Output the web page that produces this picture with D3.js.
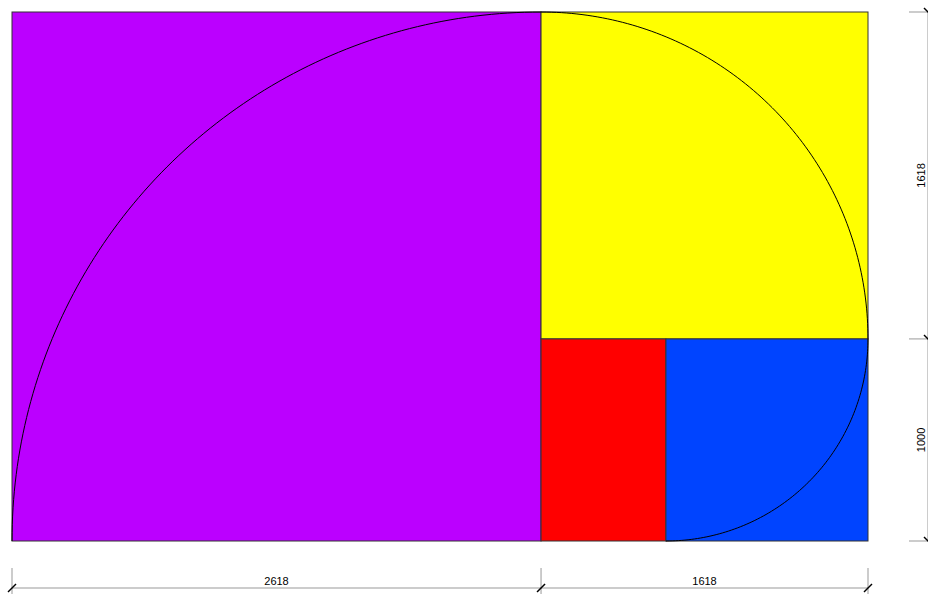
<!DOCTYPE html>
<html lang="en">
<head>
<script src="https://d3js.org/d3.v7.min.js"></script>
<style>
  body { margin: 0; background: #fff; }
  .tile { stroke: #333; stroke-width: 1px; }
  .arc { fill: none; stroke: #000; stroke-width: 1px; }
  .ext { stroke: #999; stroke-width: 1px; }
  .tick { stroke: #000; stroke-width: 1.5px; }
  .dimlabel { font-family: "Liberation Sans", Arial, sans-serif; font-size: 11px; fill: #000; }
</style>
</head>
<body>
<svg id="golden" width="928" height="594"></svg>
<script>
// tiles in data units: [x0, y0, x1, y1]
const tileNames = ["big", "upper", "small", "mid"];
const tileBoxes = [[0, 0, 2618, 2618], [2618, 1000, 4236, 2618], [2618, 0, 3236, 1000], [3236, 0, 4236, 1000]];
const tileColors = ["#bb00ff", "#ffff00", "#ff0000", "#0044ff"];
// quarter arcs: center x, center y, radius, start angle, end angle (deg)
const arcCenters = [[2618, 0], [2618, 1000], [3236, 1000]];
const arcRadii = [2618, 1618, 1000];
const arcAngles = [[180, 90], [90, 0], [0, -90]];
// dimension marks
const bottomStops = [0, 2618, 4236];
const bottomLabels = ["2618", "1618"];
const sideStops = [2618, 1000, 0];
const sideLabels = ["1618", "1000"];

const svg = d3.select("#golden");
const x = d3.scaleLinear().domain([0, 4236]).range([12, 868]);
const y = d3.scaleLinear().domain([0, 2618]).range([541, 12]);

svg.selectAll("rect.tile").data(tileBoxes)
  .join("rect")
  .attr("class", "tile")
  .attr("x", d => x(d[0]))
  .attr("y", d => y(d[3]))
  .attr("width", d => x(d[2]) - x(d[0]))
  .attr("height", d => y(d[1]) - y(d[3]))
  .attr("fill", (d, i) => tileColors[i]);

const line = d3.line().x(d => x(d[0])).y(d => y(d[1]));
svg.selectAll("path.arc").data(arcCenters)
  .join("path")
  .attr("class", "arc")
  .attr("d", (c, i) => {
    const [a0, a1] = arcAngles[i];
    const pts = d3.range(0, 101).map(k => {
      const a = (a0 + (a1 - a0) * k / 100) * Math.PI / 180;
      return [c[0] + arcRadii[i] * Math.cos(a), c[1] + arcRadii[i] * Math.sin(a)];
    });
    return line(pts);
  });

// bottom dimension line
const by = 588;
const bottom = svg.append("g");
bottom.append("line").attr("class", "ext")
  .attr("x1", x(0)).attr("x2", x(4236)).attr("y1", by).attr("y2", by);
bottom.selectAll("line.v").data(bottomStops).join("line")
  .attr("class", "ext")
  .attr("x1", d => x(d)).attr("x2", d => x(d))
  .attr("y1", 568).attr("y2", 594);
bottom.selectAll("line.tick").data(bottomStops).join("line")
  .attr("class", "tick")
  .attr("x1", d => x(d) - 4).attr("x2", d => x(d) + 4)
  .attr("y1", by + 4).attr("y2", by - 4);
bottom.selectAll("text").data(bottomLabels).join("text")
  .attr("class", "dimlabel")
  .attr("text-anchor", "middle")
  .attr("x", (d, i) => (x(bottomStops[i]) + x(bottomStops[i + 1])) / 2)
  .attr("y", by - 3)
  .text(d => d);

// right dimension line (runs off the edge)
const rx = 928;
const side = svg.append("g");
side.append("line").attr("class", "ext")
  .attr("x1", rx).attr("x2", rx).attr("y1", y(2618)).attr("y2", y(0));
side.selectAll("line.h").data(sideStops).join("line")
  .attr("class", "ext")
  .attr("x1", 909).attr("x2", rx)
  .attr("y1", d => y(d)).attr("y2", d => y(d));
side.selectAll("line.tick").data(sideStops).join("line")
  .attr("class", "tick")
  .attr("x1", rx - 4).attr("x2", rx + 4)
  .attr("y1", d => y(d) - 4).attr("y2", d => y(d) + 4);
side.selectAll("text").data(sideLabels).join("text")
  .attr("class", "dimlabel")
  .attr("text-anchor", "middle")
  .attr("transform", (d, i) => `translate(${rx - 3},${(y(sideStops[i]) + y(sideStops[i + 1])) / 2}) rotate(-90)`)
  .text(d => d);
</script>
</body>
</html>
